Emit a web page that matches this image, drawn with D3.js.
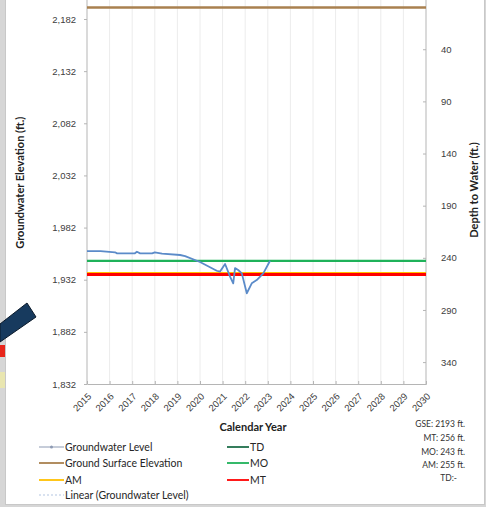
<!DOCTYPE html>
<html>
<head>
<meta charset="utf-8">
<script src="https://cdn.jsdelivr.net/npm/d3@7"></script>
<style>
  body { margin: 0; background: #d6d6d6; }
  svg { display: block; font-family: Lato, "Liberation Sans", sans-serif; }
</style>
</head>
<body>
<svg id="chart" width="486" height="507"></svg>
<script>
// Groundwater level readings (decimal year, elevation ft.)
const gwYears = [2015.0, 2015.6, 2016.24, 2016.33, 2017.12, 2017.21, 2017.35, 2017.88, 2018.0, 2018.32,
                 2019.12, 2019.34, 2020.0, 2020.74, 2020.88, 2021.11, 2021.33, 2021.47, 2021.55, 2021.69,
                 2021.85, 2022.07, 2022.29, 2022.51, 2022.8, 2023.1];
const gwElev = [1959.5, 1959.5, 1958.3, 1957.3, 1957.3, 1958.8, 1957.3, 1957.3, 1958.3, 1957.1,
                1955.7, 1954.7, 1949.0, 1940.6, 1939.7, 1947.1, 1934.9, 1928.5, 1943.2, 1941.3,
                1938.1, 1919.0, 1928.5, 1931.7, 1938.1, 1950.2];

// Thresholds
const gse = 2193;          // ground surface elevation
const depthMO = 243;
const depthMT = 256;
const depthAM = 255;

// Axis ticks
const yearTicks = d3.range(2015, 2031);
const elevTicks = [1832, 1882, 1932, 1982, 2032, 2082, 2132, 2182];
const depthTicks = [40, 90, 140, 190, 240, 290, 340];

const legendLeft = ["Groundwater Level", "Ground Surface Elevation", "AM", "Linear (Groundwater Level)"];
const legendMid = ["TD", "MO", "MT"];
const infoLines = ["GSE: 2193 ft.", "MT: 256 ft.", "MO: 243 ft.", "AM: 255 ft.", "TD:-"];

const colors = {
  gw: "#5b8bc9", gse: "#a9804f", am: "#ffc000", linear: "#d9e2f0",
  td: "#1f6f4a", mo: "#1fb25a", mt: "#ff0000"
};

const svg = d3.select("#chart");

// page bits around the chart frame
svg.append("rect").attr("x", 0).attr("y", 345).attr("width", 6).attr("height", 12).attr("fill", "#e8261b");
svg.append("rect").attr("x", 0).attr("y", 372).attr("width", 6).attr("height", 16).attr("fill", "#e9e6b0");

// chart frame
svg.append("rect")
  .attr("x", 5.5).attr("y", -5).attr("width", 479).attr("height", 509.5)
  .attr("fill", "#fff").attr("stroke", "#c8c8c8");

// navy arrow overlapping the frame edge
svg.append("path")
  .attr("d", "M27,303 L36,317 L0,342 L0,324 Z")
  .attr("fill", "#173a5e").attr("stroke", "#0b1a2a").attr("stroke-width", 1);

// Scales
const x = d3.scaleLinear().domain([2015, 2030]).range([87, 426]);
const yL = d3.scaleLinear().domain([1832, 2182]).range([384, 19]);
const yR = d3.scaleLinear().domain([gse - 1832, gse - 2182]).range([384, 19]);

const plotTop = yL(2205);
const plotBottom = yL(1832);

// vertical grid lines
svg.append("g")
  .selectAll("line")
  .data(yearTicks.slice(1, -1))
  .join("line")
  .attr("x1", d => x(d)).attr("x2", d => x(d))
  .attr("y1", plotTop).attr("y2", plotBottom)
  .attr("stroke", "#ececec").attr("stroke-width", 1);

// Left axis
const leftAxis = svg.append("g")
  .attr("transform", `translate(${x(2015)},0)`)
  .call(d3.axisLeft(yL).tickValues(elevTicks).tickFormat(d3.format(",")).tickSize(3).tickPadding(8));
leftAxis.select(".domain").remove();
leftAxis.append("line").attr("y1", plotTop).attr("y2", plotBottom).attr("stroke", "#b5b5b5");

// Right axis
const rightAxis = svg.append("g")
  .attr("transform", `translate(${x(2030)},0)`)
  .call(d3.axisRight(yR).tickValues(depthTicks).tickSize(-3).tickPadding(15));
rightAxis.select(".domain").remove();
rightAxis.append("line").attr("y1", plotTop).attr("y2", plotBottom).attr("stroke", "#b5b5b5");

// Bottom axis
const bottomAxis = svg.append("g")
  .attr("transform", `translate(0,${plotBottom})`)
  .call(d3.axisBottom(x).tickValues(yearTicks).tickFormat(d3.format("d")).tickSize(-3).tickPadding(0));
bottomAxis.select(".domain").attr("stroke", "#b5b5b5");
bottomAxis.selectAll("text")
  .style("text-anchor", "end")
  .attr("x", -6).attr("y", 9).attr("dy", "0.35em")
  .attr("transform", "rotate(-45)");

svg.selectAll(".tick line").attr("stroke", "#b5b5b5");
svg.selectAll(".tick text").attr("fill", "#404040").style("font-size", "9.5px");
bottomAxis.selectAll("text").style("font-size", "9.5px");

// Axis titles
svg.append("text")
  .attr("transform", `translate(24,${yL(1932) - 97}) rotate(-90)`)
  .attr("text-anchor", "middle")
  .style("font-size", "11px").style("font-weight", "bold").attr("fill", "#222")
  .text("Groundwater Elevation (ft.)");

svg.append("text")
  .attr("transform", `translate(478,${190}) rotate(-90)`)
  .attr("text-anchor", "middle")
  .style("font-size", "11px").style("font-weight", "bold").attr("fill", "#222")
  .text("Depth to Water (ft.)");

svg.append("text")
  .attr("x", 253).attr("y", 431)
  .attr("text-anchor", "middle")
  .style("font-size", "11px").style("font-weight", "bold").attr("fill", "#222")
  .text("Calendar Year");

// Horizontal reference lines
const refLines = [
  { v: gse, color: colors.gse, w: 2.5 },
  { v: gse - depthMO, color: colors.mo, w: 2.2 },
  { v: gse - depthAM, color: colors.am, w: 3 },
  { v: gse - depthMT, color: colors.mt, w: 3 }
];
svg.append("g")
  .selectAll("line")
  .data(refLines)
  .join("line")
  .attr("x1", x(2015)).attr("x2", x(2030))
  .attr("y1", d => yL(d.v)).attr("y2", d => yL(d.v))
  .attr("stroke", d => d.color).attr("stroke-width", d => d.w);

// Groundwater level line
const gwData = gwYears.map((yr, i) => ({ yr, v: gwElev[i] }));
svg.append("path")
  .datum(gwData)
  .attr("fill", "none")
  .attr("stroke", colors.gw)
  .attr("stroke-width", 1.8)
  .attr("stroke-linejoin", "round")
  .attr("d", d3.line().x(d => x(d.yr)).y(d => yL(d.v)));

// Legend
const legendRowY = [447, 463, 480, 495];
const leftColors = [colors.gw, colors.gse, colors.am, colors.linear];
const lg = svg.append("g").style("font-size", "10.5px").attr("fill", "#262626");

legendLeft.forEach((name, i) => {
  const yy = legendRowY[i];
  lg.append("line")
    .attr("x1", 39).attr("x2", 64).attr("y1", yy).attr("y2", yy)
    .attr("stroke", i === 0 ? "#8d9ab3" : leftColors[i])
    .attr("stroke-width", i === 0 ? 1 : 1.8)
    .attr("stroke-dasharray", i === 3 ? "2,2" : null);
  if (i === 0) {
    lg.append("circle").attr("cx", 51.5).attr("cy", yy).attr("r", 1.5).attr("fill", "#8d9ab3");
  }
  lg.append("text").attr("x", 65).attr("y", yy).attr("dy", "0.35em").text(name);
});

const midColors = [colors.td, colors.mo, colors.mt];
legendMid.forEach((name, i) => {
  const yy = legendRowY[i];
  lg.append("line")
    .attr("x1", 227).attr("x2", 249).attr("y1", yy).attr("y2", yy)
    .attr("stroke", midColors[i]).attr("stroke-width", 1.8);
  lg.append("text").attr("x", 250).attr("y", yy).attr("dy", "0.35em").text(name);
});

// Info block
const infoY = [424, 438, 452, 465, 478];
svg.append("g")
  .selectAll("text")
  .data(infoLines)
  .join("text")
  .attr("x", (d, i) => i === 4 ? 457 : 465)
  .attr("y", (d, i) => infoY[i])
  .attr("dy", "0.35em")
  .attr("text-anchor", "end")
  .style("font-size", "8.5px").attr("fill", "#333")
  .text(d => d);
</script>
</body>
</html>
